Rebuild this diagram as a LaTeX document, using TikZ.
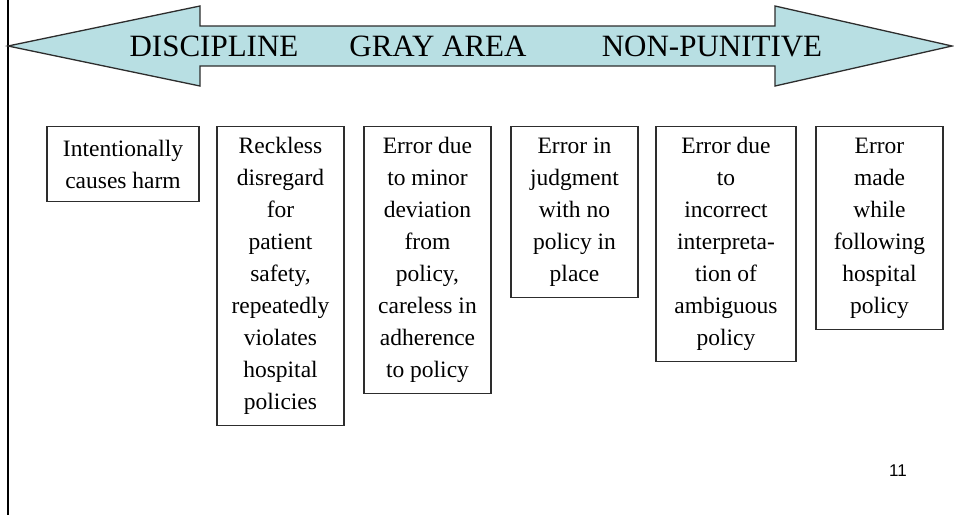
\documentclass[tikz,border=0pt]{standalone}
\usepackage{fontspec}
\setmainfont{Liberation Serif}
\newfontfamily\slidenumfont{Liberation Sans}
\definecolor{bandfill}{RGB}{184,223,227}
\definecolor{edgegray}{RGB}{45,45,45}

\begin{document}
\begin{tikzpicture}[x=1pt,y=-1pt,
        errbox/.style={draw=edgegray,line width=1.3pt,anchor=north,align=center,inner sep=0pt,
            font=\fontsize{23.5}{32}\selectfont,minimum height={32pt*#1+11pt}},
        bandlabel/.style={anchor=base,inner sep=0pt,font=\fontsize{31}{36}\selectfont}]

        \useasboundingbox (0,0) rectangle (954,515);

        % Slide edge
        \coordinate (ET) at (8,0);
        \coordinate (EB) at (8,515);
        \draw[black,line width=2.2pt] (ET) -- (EB);

        \coordinate (LT) at (8,46);
        \coordinate (RT) at (952,46);

        % Double arrow
        \draw[edgegray,line width=1.3pt,fill=bandfill] (LT) -- (200,6) -- (200,26) -- (775,26) -- (775,6)
            -- (RT) -- (775,86) -- (775,66) -- (200,66) -- (200,86) -- cycle;
        \node[bandlabel] (disc) at (214,56) {DISCIPLINE};
        \node[bandlabel] (gray) at (438,56) {GRAY AREA};
        \node[bandlabel] (nonp) at (712,56) {NON-PUNITIVE};

        % Boxes
        \node[errbox=2,minimum width=152pt] (b1) at (123,126) {Intentionally\\causes harm};
        \node[errbox=9,minimum width=127pt] (b2) at (280.5,126) {Reckless\\disregard\\for\\patient\\safety,\\repeatedly\\violates\\hospital\\policies};
        \node[errbox=8,minimum width=127pt] (b3) at (427.5,126) {Error due\\to minor\\deviation\\from\\policy,\\careless in\\adherence\\to policy};
        \node[errbox=5,minimum width=127pt] (b4) at (574.5,126) {Error in\\judgment\\with no\\policy in\\place};
        \node[errbox=7,minimum width=140pt] (b5) at (726,126) {Error due\\to\\incorrect\\interpreta-\\tion of\\ambiguous\\policy};
        \node[errbox=6,minimum width=127pt] (b6) at (879.5,126) {Error\\made\\while\\following\\hospital\\policy};

        \node[font=\slidenumfont\fontsize{17}{20}\selectfont,inner sep=0pt] (pagenum) at (898,471) {11};

    \end{tikzpicture}
\end{document}
